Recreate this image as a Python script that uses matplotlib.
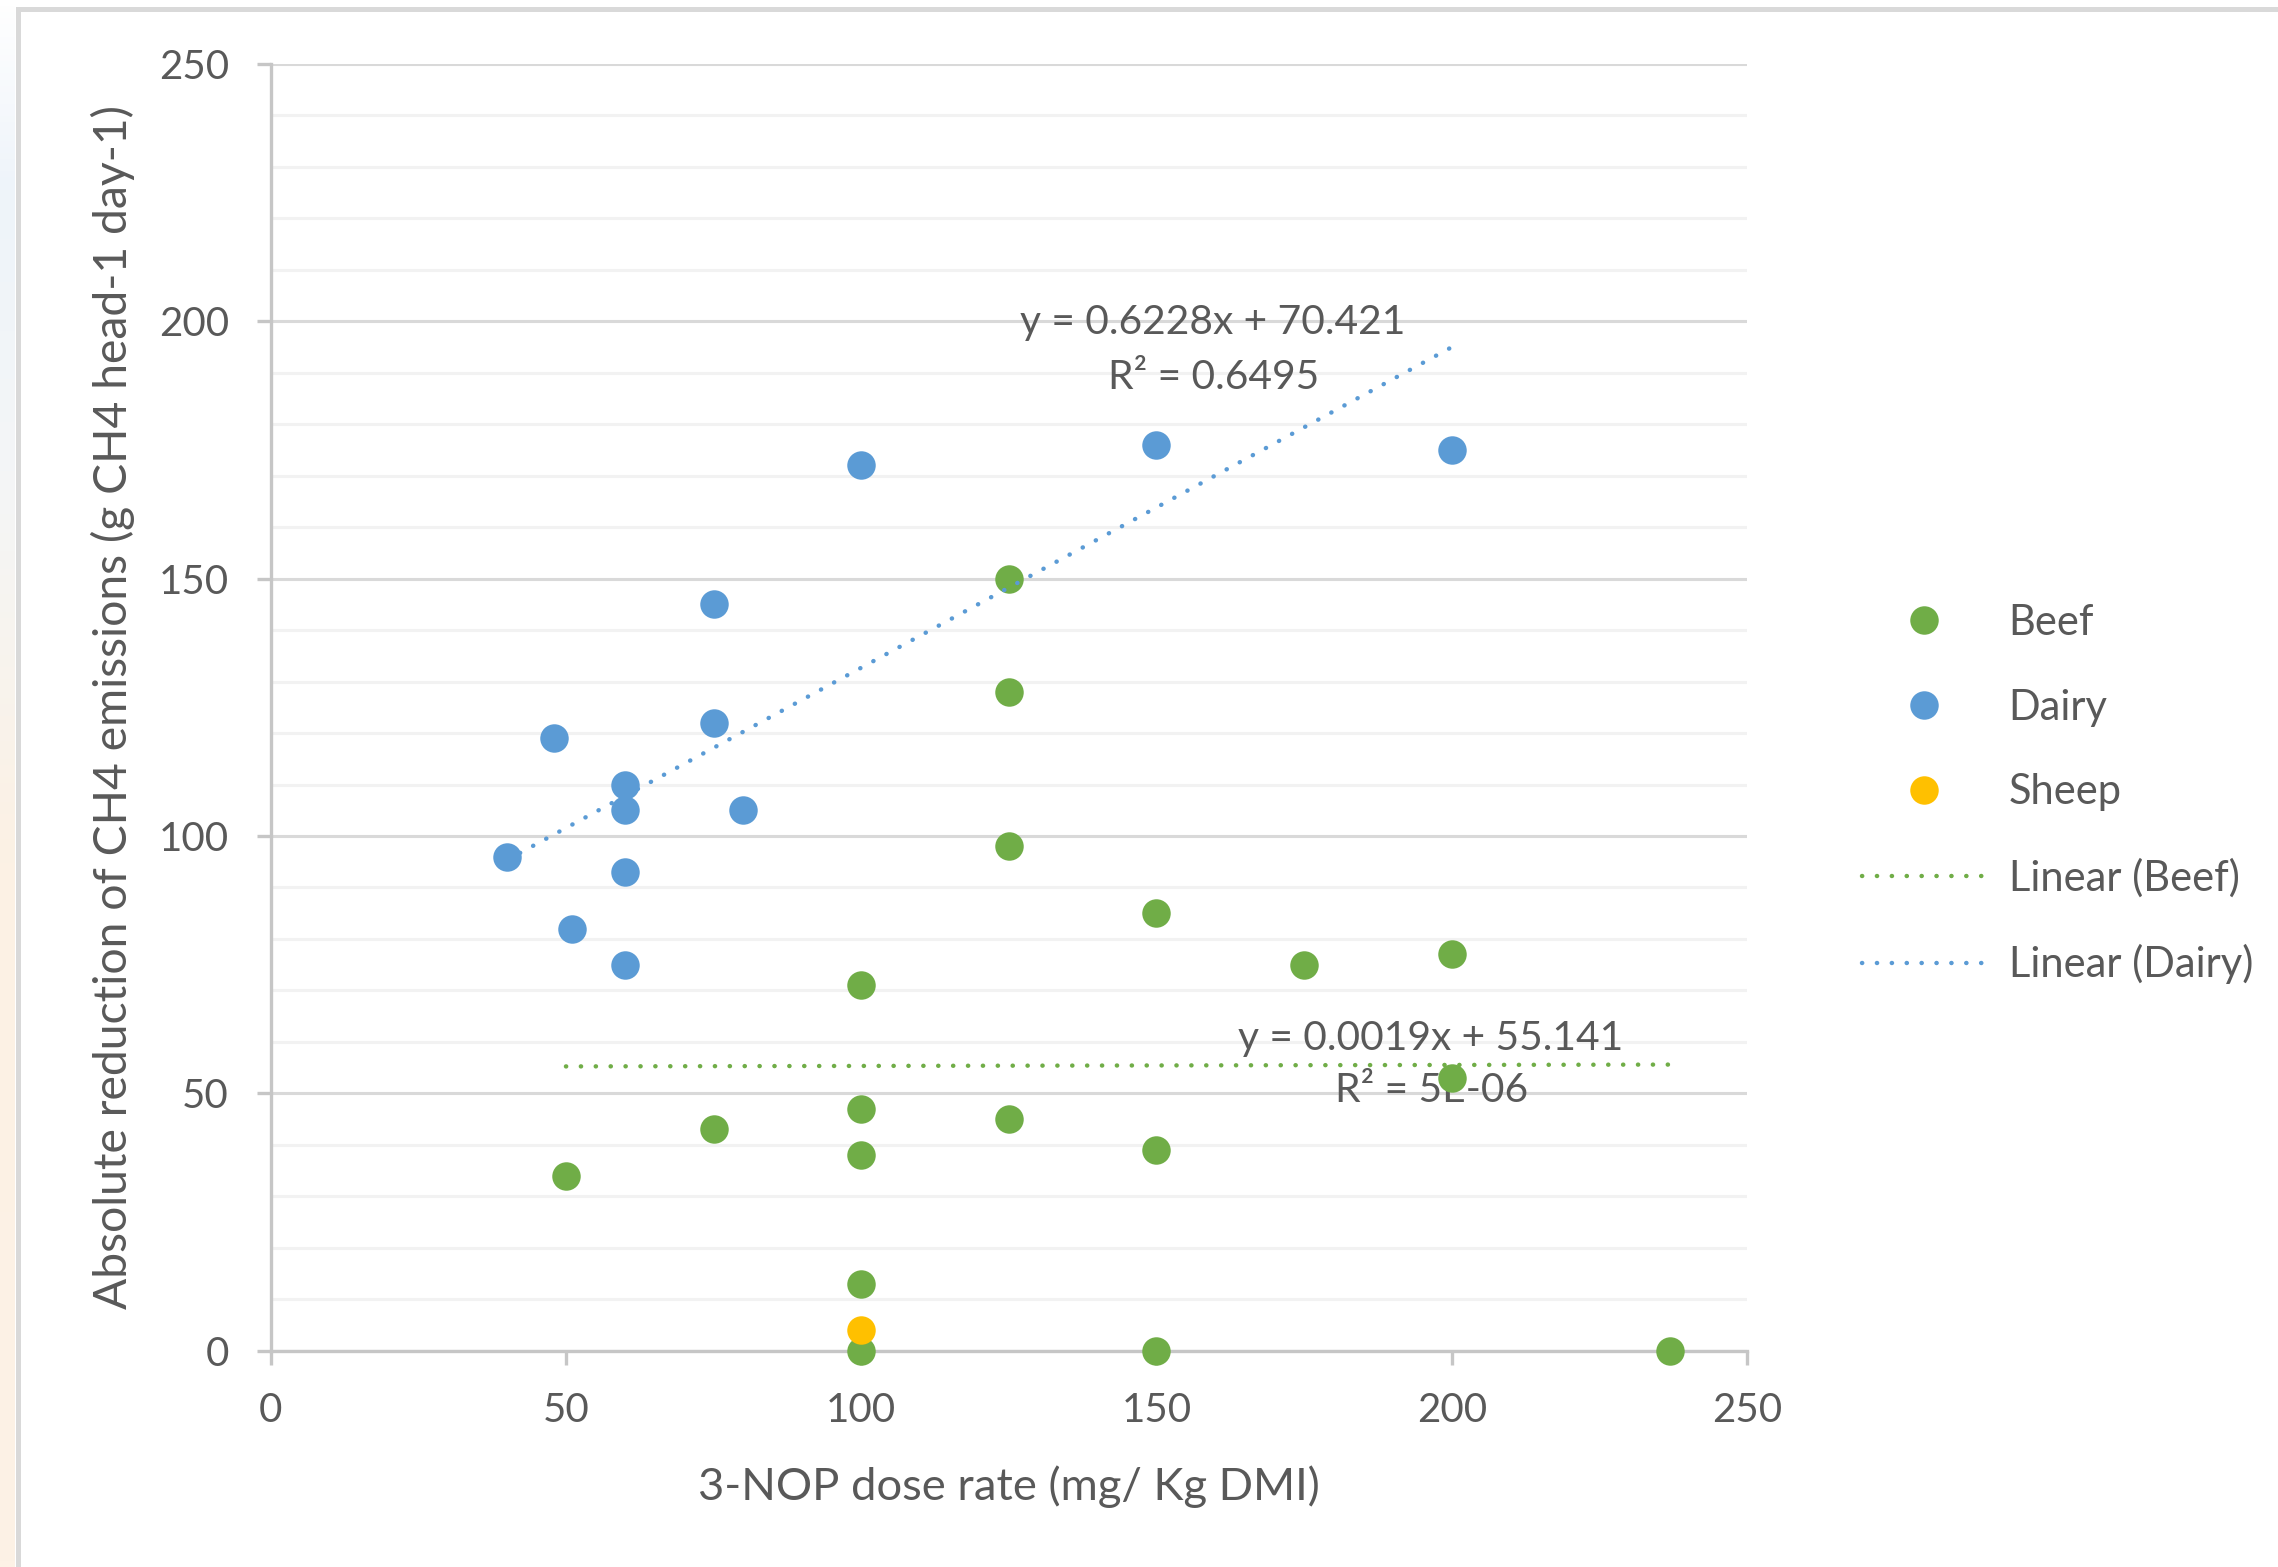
import numpy as np
import matplotlib
matplotlib.use("Agg")
import matplotlib.pyplot as plt
from matplotlib.lines import Line2D
from matplotlib.patches import Rectangle
from matplotlib.colors import LinearSegmentedColormap

# ---------------- data ----------------
beef_x = [50, 75, 100, 100, 100, 100, 100, 125, 125, 125, 125, 150, 150, 150, 175, 200, 200, 237]
beef_y = [34, 43, 71, 47, 38, 13, 0, 150, 128, 98, 45, 85, 39, 0, 75, 77, 53, 0]

dairy_x = [40, 48, 51, 60, 60, 60, 60, 75, 75, 80, 100, 150, 200]
dairy_y = [96, 119, 82, 110, 105, 93, 75, 145, 122, 105, 172, 176, 175]

sheep_x = [100]
sheep_y = [4]

beef_fit = (0.0019, 55.141)     # slope, intercept
beef_r2 = "5E-06"
dairy_fit = (0.6228, 70.421)
dairy_r2 = "0.6495"

x_ticks = [0, 50, 100, 150, 200, 250]
y_ticks = [0, 50, 100, 150, 200, 250]

x_label = "3-NOP dose rate (mg/ Kg DMI)"
y_label = "Absolute reduction of CH4 emissions (g CH4 head-1 day-1)"

# ---------------- style ----------------
GREEN = "#70AD47"
BLUE = "#5B9BD5"
ORANGE = "#FFC000"
TXT = "#595959"
W, H = 2278, 1567
DPI = 100

plt.rcParams["font.family"] = ["Lato", "DejaVu Sans"]

fig = plt.figure(figsize=(W / DPI, H / DPI), dpi=DPI)
fig.patch.set_facecolor("white")

# left slide-background strip
strip = fig.add_axes([0, 0, 15 / W, 1])
cmap = LinearSegmentedColormap.from_list(
    "bg", [(0, "#ffffff"), (0.12, "#eef4fa"), (0.3, "#f4f6f7"), (0.55, "#fcf1e4"), (1, "#fdf2e6")])
strip.imshow(np.linspace(0, 1, 256).reshape(-1, 1), aspect="auto", cmap=cmap,
             extent=[0, 1, 0, 1], origin="upper")
strip.set_axis_off()

# chart border
fig.patches.append(Rectangle((17.5 / W, -0.1), 1.2, 1.1 - 8.5 / H, transform=fig.transFigure,
                             fill=False, edgecolor="#d9d9d9", linewidth=3.6, zorder=0))

left, right = 270.7 / W, 1747 / W
bottom, top = 1 - 1350.7 / H, 1 - 64 / H
ax = fig.add_axes([left, bottom, right - left, top - bottom])
ax.set_xlim(0, 250)
ax.set_ylim(0, 250)
ax.set_xticks(x_ticks)
ax.set_yticks(y_ticks)
ax.set_yticks(np.arange(0, 251, 10), minor=True)

for s in ["top", "right"]:
    ax.spines[s].set_visible(False)
for s in ["left", "bottom"]:
    ax.spines[s].set_color("#c6c6c6")
    ax.spines[s].set_linewidth(2.4)

ax.yaxis.grid(True, which="major", color="#d9d9d9", linewidth=2.2, zorder=0)
ax.yaxis.grid(True, which="minor", color="#f2f2f2", linewidth=2.2, zorder=0)
ax.set_axisbelow(True)

ax.tick_params(axis="both", which="major", length=10, width=2.4, color="#c6c6c6",
               labelsize=29, labelcolor=TXT, direction="out")
ax.tick_params(axis="y", which="major", pad=20)
ax.tick_params(axis="x", which="major", pad=20)
ax.tick_params(axis="y", which="minor", length=0)

ms = 20.5
ax.plot(beef_x, beef_y, "o", color=GREEN, ms=ms, mec="none", zorder=3, clip_on=False)
ax.plot(dairy_x, dairy_y, "o", color=BLUE, ms=ms, mec="none", zorder=3, clip_on=False)
ax.plot(sheep_x, sheep_y, "o", color=ORANGE, ms=ms, mec="none", zorder=3, clip_on=False)

dot = dict(linestyle=(0, (0.05, 3.3)), dash_capstyle="round", linewidth=3.2)
bx = np.array([min(beef_x), max(beef_x)])
ax.plot(bx, beef_fit[0] * bx + beef_fit[1], color=GREEN, zorder=4, **dot)
dx = np.array([min(dairy_x), max(dairy_x)])
ax.plot(dx, dairy_fit[0] * dx + dairy_fit[1], color=BLUE, zorder=4, **dot)

ax.text(159.6, 199.7, f"y = {dairy_fit[0]}x + {dairy_fit[1]}", ha="center", va="center",
        fontsize=29.3, color=TXT, zorder=5)
ax.text(159.6, 189.0, f"R² = {dairy_r2}", ha="center", va="center", fontsize=29.3, color=TXT, zorder=5)
ax.text(196.5, 60.75, f"y = {beef_fit[0]}x + {beef_fit[1]}", ha="center", va="center",
        fontsize=29.3, color=TXT, zorder=2)
ax.text(196.5, 50.65, f"R² = {beef_r2}", ha="center", va="center", fontsize=29.3, color=TXT, zorder=2)

ax.set_xlabel(x_label, fontsize=32.7, color=TXT, labelpad=26)
ax.set_ylabel(y_label, fontsize=33.3, color=TXT, labelpad=17)

handles = [
    Line2D([], [], marker="o", ls="none", color=GREEN, ms=ms, mec="none"),
    Line2D([], [], marker="o", ls="none", color=BLUE, ms=ms, mec="none"),
    Line2D([], [], marker="o", ls="none", color=ORANGE, ms=ms, mec="none"),
    Line2D([], [], color=GREEN, **dot),
    Line2D([], [], color=BLUE, **dot),
]
labels = ["Beef", "Dairy", "Sheep", "Linear (Beef)", "Linear (Dairy)"]
leg = fig.legend(handles, labels, loc="upper left", bbox_to_anchor=(1862 / W, 1 - 604 / H),
                 bbox_transform=fig.transFigure, frameon=False, fontsize=30, borderpad=0,
                 borderaxespad=0, handlelength=2.97, handletextpad=0.55, labelspacing=1.12,
                 numpoints=1)
for t in leg.get_texts():
    t.set_color(TXT)

fig.savefig("out.png", dpi=DPI)
